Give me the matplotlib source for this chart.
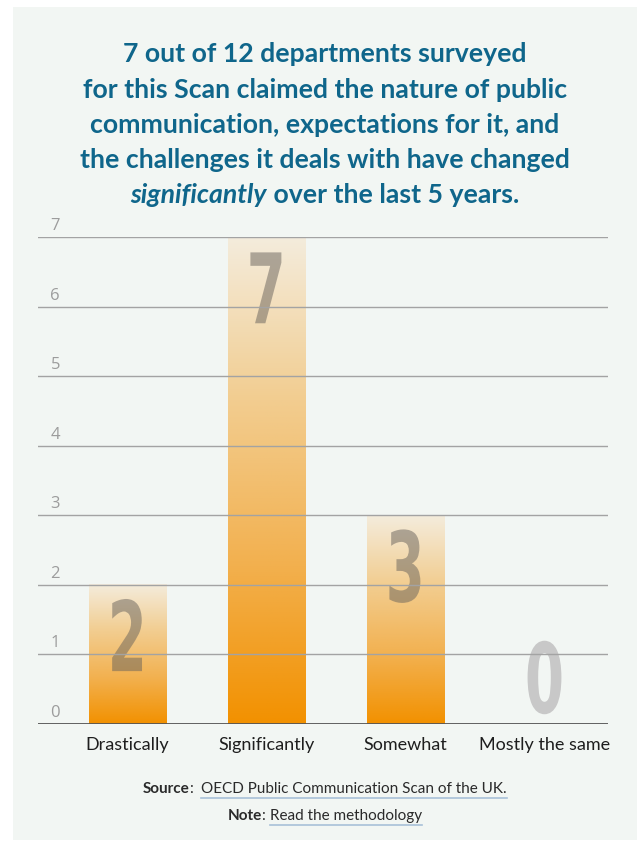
import numpy as np
import matplotlib
matplotlib.use("Agg")
import matplotlib.pyplot as plt
from matplotlib import patheffects
from matplotlib.colors import LinearSegmentedColormap
from matplotlib.patches import Rectangle
from matplotlib.lines import Line2D
from matplotlib.transforms import Affine2D

# survey answers
categories = ["Drastically", "Significantly", "Somewhat", "Mostly the same"]
counts = [2, 7, 3, 0]
yticks = [0, 1, 2, 3, 4, 5, 6, 7]

title_lines = [
    [("7 out of 12 departments surveyed", "normal")],
    [("for this Scan claimed the nature of public", "normal")],
    [("communication, expectations for it, and", "normal")],
    [("the challenges it deals with have changed", "normal")],
    [("significantly", "italic"), (" over the last 5 years.", "normal")],
]

W, H = 637, 841
BG = "#f2f6f3"
TEAL = "#0f668b"

plt.rcParams["font.family"] = ["Lato", "DejaVu Sans"]


class Squeeze(patheffects.AbstractPathEffect):
    """squash text horizontally around its centre (condensed digits)"""
    def __init__(self, sx):
        super().__init__()
        self.sx = sx

    def draw_path(self, renderer, gc, tpath, affine, rgbFace=None):
        ext = tpath.get_extents()
        cx = (ext.x0 + ext.x1) / 2
        t = Affine2D().translate(-cx, 0).scale(self.sx, 1).translate(cx, 0) + affine
        renderer.draw_path(gc, tpath, t, rgbFace)


fig = plt.figure(figsize=(W / 100, H / 100), dpi=100, facecolor="white")
fig.add_artist(Rectangle((13 / W, 1 - 840 / H), (W - 13) / W, 833 / H,
                         transform=fig.transFigure, facecolor=BG,
                         edgecolor="none", zorder=-10))

ax = fig.add_axes([38 / W, 1 - 724 / H, 570 / W, 487 / H])
ax.set_facecolor("none")
ax.set_xlim(-0.644, 3.457)
ax.set_ylim(0, 7)
for s in ax.spines.values():
    s.set_visible(False)
ax.set_xticks([])
ax.set_yticks([])

bar_cmap = LinearSegmentedColormap.from_list(
    "warm", ["#f29100", "#f2b150", "#f2cd90", "#f4ecdc"])
grad = np.linspace(0, 1, 256).reshape(-1, 1)
bw = 0.555

for i, (cat, v) in enumerate(zip(categories, counts)):
    if v > 0:
        ax.imshow(grad, cmap=bar_cmap, origin="lower", aspect="auto",
                  extent=(i - bw / 2, i + bw / 2, 0, v), zorder=1)
        ax.text(i, v - 1.24, str(v), ha="center", va="baseline",
                fontsize=70, fontweight="bold", family="DejaVu Sans",
                color="#66615b", alpha=0.5, zorder=2,
                path_effects=[Squeeze(0.58)])
    else:
        ax.text(i, 0.16, str(v), ha="center", va="baseline",
                fontsize=70, fontweight="bold", family="DejaVu Sans",
                color="#c8c8c8", zorder=2,
                path_effects=[Squeeze(0.58)])
    ax.text(i, -0.3, cat, ha="center", va="center", fontsize=13,
            color="#1e1e1e", clip_on=False)

# gridlines sit on top of the bars
for t in yticks:
    ax.axhline(t, color="#555555" if t == 0 else "#a3a3a3",
               lw=1.3 if t == 0 else 1.0, zorder=3)
    ax.text(-0.52, t + 0.1, str(t), ha="center", va="baseline",
            fontsize=12, family="Open Sans", color="#9c9c9c")

renderer = fig.canvas.get_renderer()


def draw_runs(y, runs, size, color, cx=325):
    """lay out styled pieces of text side by side, centred on cx (pixels)"""
    texts = []
    for s, style in runs:
        kw = dict(fontsize=size, color=color, va="baseline", ha="left")
        if style == "italic":
            kw.update(fontstyle="italic", fontweight="bold")
        elif style == "bold":
            kw.update(fontweight="bold")
        texts.append(fig.text(0, 1 - y / H, s, **kw))
    widths = [t.get_window_extent(renderer).width for t in texts]
    x = cx - sum(widths) / 2
    for t, w in zip(texts, widths):
        t.set_x(x / W)
        x += w
    return texts, widths


ys = [62, 98, 133, 168, 203]
for y, line in zip(ys, title_lines):
    runs = [(s, "italic" if st == "italic" else "bold") for s, st in line]
    draw_runs(y, runs, 19.2, TEAL)

# footer
src_runs = [("Source", "bold"), (":  ", "plain"),
            ("OECD Public Communication Scan of the UK.", "plain")]
note_runs = [("Note", "bold"), (": ", "plain"), ("Read the methodology", "plain")]
for y, runs in [(793, src_runs), (820, note_runs)]:
    texts, widths = draw_runs(y, runs, 11, "#2a2a2a")
    link = texts[-1]
    x0 = link.get_position()[0] * W
    fig.add_artist(Line2D([x0 / W, (x0 + widths[-1]) / W],
                          [1 - (y + 5) / H] * 2, color="#a8c0d8", lw=1.2,
                          transform=fig.transFigure))

fig.savefig("out.png", dpi=100, facecolor="white")
